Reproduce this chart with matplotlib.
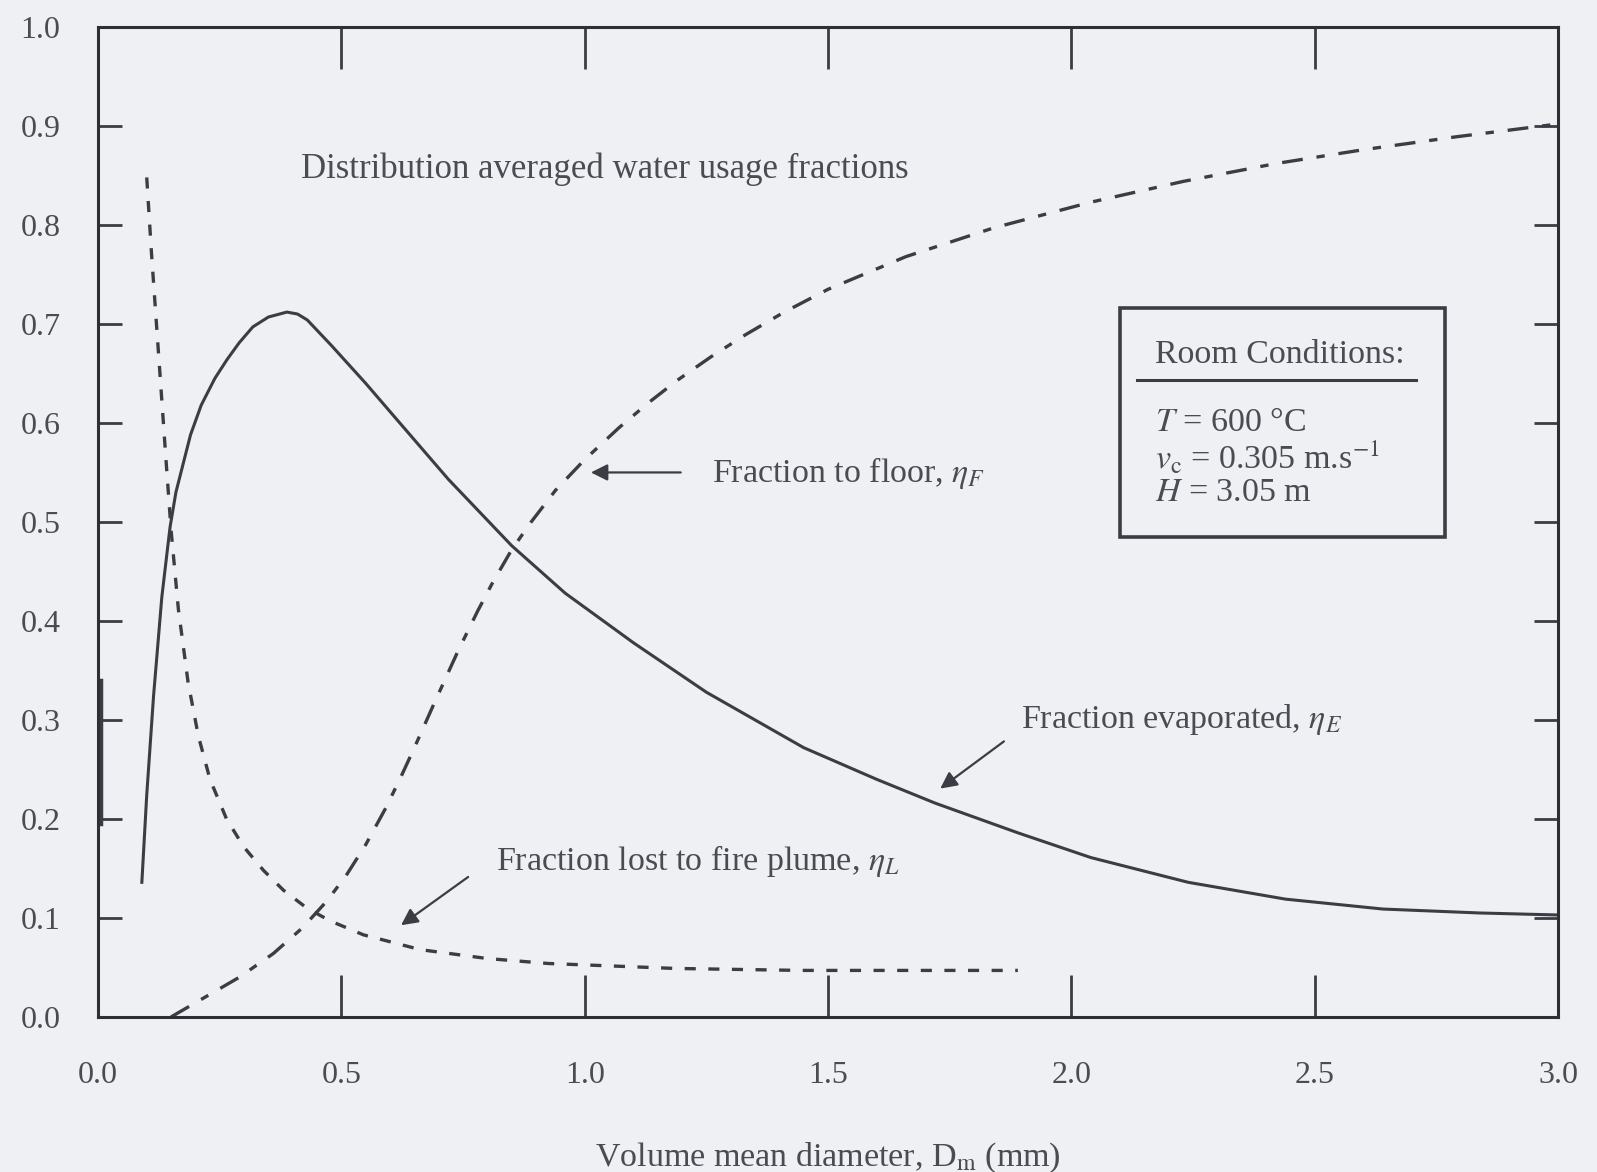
import matplotlib
matplotlib.use("Agg")
from matplotlib import pyplot as plt
from matplotlib.patches import Rectangle

# fraction evaporated (solid)
evap_x = [0.090, 0.100, 0.114, 0.131, 0.148, 0.160, 0.175, 0.190, 0.212, 0.240,
          0.265, 0.290, 0.318, 0.350, 0.388, 0.410, 0.430, 0.480, 0.550, 0.620,
          0.720, 0.850, 0.960, 1.100, 1.250, 1.450, 1.600, 1.720, 1.890, 2.040,
          2.240, 2.440, 2.640, 2.840, 3.000]
evap_y = [0.136, 0.224, 0.324, 0.424, 0.495, 0.530, 0.559, 0.588, 0.618, 0.645,
          0.664, 0.681, 0.697, 0.707, 0.712, 0.710, 0.704, 0.678, 0.640, 0.600,
          0.543, 0.476, 0.428, 0.378, 0.328, 0.272, 0.240, 0.216, 0.186, 0.161,
          0.136, 0.119, 0.109, 0.105, 0.103]

# fraction to floor (long dash)
floor_x = [0.15, 0.22, 0.29, 0.36, 0.42, 0.47, 0.51, 0.55, 0.59, 0.62, 0.65, 0.69,
           0.74, 0.78, 0.81, 0.85, 0.89, 0.94, 1.00, 1.07, 1.13, 1.19, 1.26, 1.33,
           1.41, 1.50, 1.66, 1.84, 2.04, 2.23, 2.42, 2.60, 2.79, 3.00]
floor_y = [0.000, 0.020, 0.040, 0.064, 0.090, 0.117, 0.143, 0.174, 0.210, 0.240,
           0.272, 0.316, 0.370, 0.410, 0.438, 0.472, 0.500, 0.532, 0.563, 0.595,
           0.620, 0.643, 0.667, 0.689, 0.712, 0.735, 0.768, 0.797, 0.823, 0.844,
           0.862, 0.876, 0.889, 0.902]

# fraction lost to fire plume (short dash)
plume_x = [0.100, 0.110, 0.120, 0.130, 0.140, 0.150, 0.165, 0.185, 0.206, 0.230,
           0.264, 0.299, 0.340, 0.381, 0.429, 0.477, 0.545, 0.662, 0.800, 0.925,
           1.185, 1.444, 1.890]
plume_y = [0.848, 0.770, 0.700, 0.630, 0.560, 0.492, 0.412, 0.338, 0.284, 0.240,
           0.200, 0.172, 0.148, 0.128, 0.110, 0.097, 0.083, 0.068, 0.059, 0.054,
           0.049, 0.047, 0.047]

x_ticks = [0.0, 0.5, 1.0, 1.5, 2.0, 2.5, 3.0]
y_ticks = [0.0, 0.1, 0.2, 0.3, 0.4, 0.5, 0.6, 0.7, 0.8, 0.9, 1.0]

room_lines = [r"$T$ = 600 °C", r"$v_{\rm c}$ = 0.305 m.s$^{-1}$", r"$H$ = 3.05 m"]

bg = "#eef0f4"
ink = "#3c3d44"
txt = "#4a4b53"

plt.rcParams["font.family"] = ["Liberation Serif", "DejaVu Serif"]
plt.rcParams["mathtext.fontset"] = "stix"
plt.rcParams["lines.scale_dashes"] = False

fig = plt.figure(figsize=(15.97, 11.72), dpi=100, facecolor=bg)
ax = fig.add_axes([0.0614, 0.1323, 0.9142, 0.8447], facecolor=bg)

ax.plot(evap_x, evap_y, color=ink, lw=2.2, solid_joinstyle="round")
ax.plot(floor_x, floor_y, color=ink, lw=2.4, dashes=(15, 10, 6, 10))
ax.plot(plume_x, plume_y, color=ink, lw=2.4, dashes=(8, 9))
# scan mark along the left edge
ax.plot([0.006, 0.006], [0.195, 0.34], color=ink, lw=2.5)

ax.set_xlim(0, 3.0)
ax.set_ylim(0, 1.0)
ax.set_xticks(x_ticks)
ax.set_yticks(y_ticks)
ax.set_xticklabels(["%.1f" % v for v in x_ticks])
ax.set_yticklabels(["%.1f" % v for v in y_ticks])
ax.tick_params(axis="x", direction="in", length=30, width=2, top=True,
               pad=32, labelsize=23, colors=ink, labelcolor=txt)
ax.tick_params(axis="y", direction="in", length=17, width=2, right=True,
               pad=27, labelsize=23, colors=ink, labelcolor=txt)
for s in ax.spines.values():
    s.set_linewidth(2.2)
    s.set_color("#2e2f35")

ax.set_xlabel(r"Volume mean diameter, D$_{\rm m}$ (mm)", fontsize=24.5,
              color=txt, labelpad=36)

fs = 24.5
ax.text(0.417, 0.856, "Distribution averaged water usage fractions",
        fontsize=25, color=txt, va="center", ha="left")

arrow = dict(arrowstyle="-|>", color=ink, lw=1.6, mutation_scale=25)
ax.text(1.261, 0.549, r"Fraction to floor, $\eta_F$",
        fontsize=fs, color=txt, va="center", ha="left")
ax.annotate("", xy=(1.007, 0.55), xytext=(1.203, 0.55), arrowprops=arrow)

ax.text(1.896, 0.300, r"Fraction evaporated, $\eta_E$",
        fontsize=fs, color=txt, va="center", ha="left")
ax.annotate("", xy=(1.726, 0.229), xytext=(1.866, 0.280), arrowprops=arrow)

ax.text(0.817, 0.158, r"Fraction lost to fire plume, $\eta_L$",
        fontsize=fs, color=txt, va="center", ha="left")
ax.annotate("", xy=(0.618, 0.091), xytext=(0.765, 0.143), arrowprops=arrow)

# room conditions box
ax.add_patch(Rectangle((2.100, 0.485), 0.668, 0.231, fill=False,
                       edgecolor=ink, lw=2.6))
ax.text(2.172, 0.669, "Room Conditions:", fontsize=fs, color=txt,
        va="center", ha="left")
ax.plot([2.134, 2.709], [0.643, 0.643], color=ink, lw=2.2)
for i, line in enumerate(room_lines):
    ax.text(2.172, 0.600 - i * 0.035, line, fontsize=fs, color=txt,
            va="center", ha="left")

fig.savefig("out.png", dpi=100, facecolor=bg)
